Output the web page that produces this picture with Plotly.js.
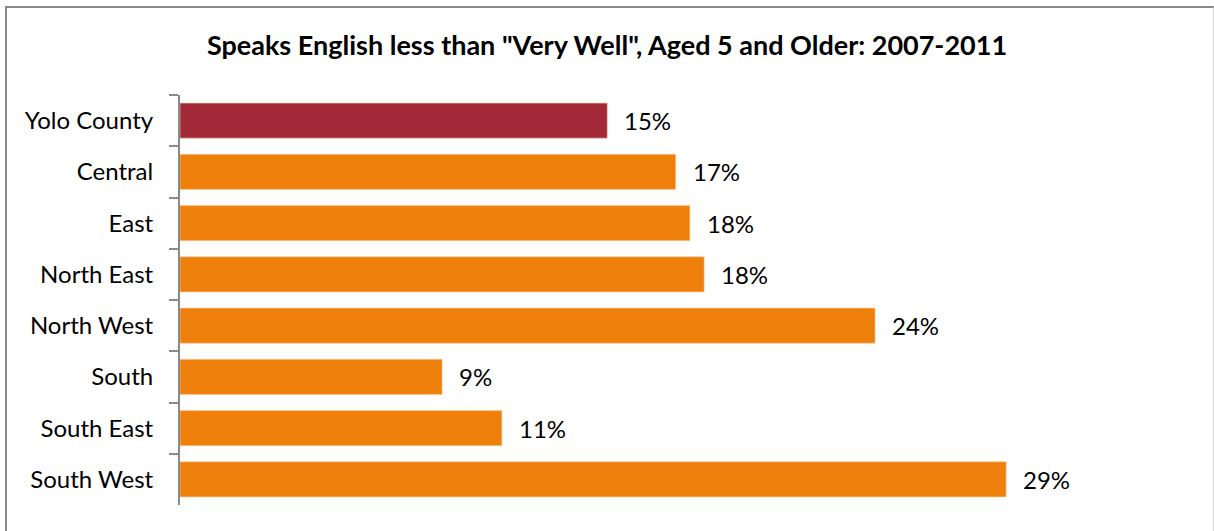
<!DOCTYPE html>
<html>
<head>
<meta charset="utf-8">
<script src="https://cdn.plot.ly/plotly-3.0.1.min.js"></script>
<style>
  html, body { margin: 0; padding: 0; background: #fff; }
  #wrap { position: relative; width: 1214px; height: 531px; overflow: hidden; }
  #chart { width: 1214px; height: 531px; }
  #frame { position: absolute; left: 5px; top: 6px; width: 1206px; height: 560px;
           border-top: 2px solid #8a8a8a; border-left: 2px solid #8a8a8a; border-right: 1px solid #d4d4d4;
           pointer-events: none; }
</style>
</head>
<body>
<div id="wrap">
  <div id="chart"></div>
  <div id="frame"></div>
</div>
<script>
const categories = ["Yolo County", "Central", "East", "North East", "North West", "South", "South East", "South West"];
const values = [15.0, 17.4, 17.9, 18.4, 24.4, 9.2, 11.3, 29.0];
const labels = ["15%", "17%", "18%", "18%", "24%", "9%", "11%", "29%"];
const barColors = ["#A22A38", "#EF7F0B", "#EF7F0B", "#EF7F0B", "#EF7F0B", "#EF7F0B", "#EF7F0B", "#EF7F0B"];
const titleText = 'Speaks English less than "Very Well", Aged 5 and Older: 2007-2011';

const FONT = "Lato, 'Open Sans', sans-serif";

const trace = {
  type: "bar",
  orientation: "h",
  y: categories,
  x: values,
  marker: { color: barColors, line: { color: "rgba(255,200,150,0.6)", width: 1 } },
  hoverinfo: "none"
};

const annotations = categories.map((c, i) => ({
  x: values[i], y: c, xref: "x", yref: "y",
  text: labels[i], showarrow: false, xanchor: "left", yanchor: "middle",
  xshift: 15, font: { family: FONT, size: 24, color: "#000" }
}));

const layout = {
  width: 1214, height: 531,
  margin: { l: 180, r: 37, t: 95, b: 26 },
  paper_bgcolor: "#fff", plot_bgcolor: "#fff",
  showlegend: false,
  bargap: 0.317,
  title: {
    text: "<b>" + titleText + "</b>",
    font: { family: FONT, size: 27, color: "#000" },
    x: 0.5, xref: "container", xanchor: "center",
    y: 1 - 46 / 531, yref: "container", yanchor: "middle"
  },
  xaxis: {
    range: [0, 35], visible: false, showgrid: false, zeroline: false, fixedrange: true
  },
  yaxis: {
    type: "category", autorange: "reversed",
    showline: true, linecolor: "#8a8a8a", linewidth: 2,
    ticks: "outside", tickson: "boundaries", ticklen: 9, tickwidth: 2, tickcolor: "#8a8a8a",
    ticklabelstandoff: 20,
    tickfont: { family: FONT, size: 24, color: "#000" },
    showgrid: false, zeroline: false
  },
  annotations: annotations
};

Plotly.newPlot("chart", [trace], layout, { staticPlot: true, displayModeBar: false });
</script>
</body>
</html>
